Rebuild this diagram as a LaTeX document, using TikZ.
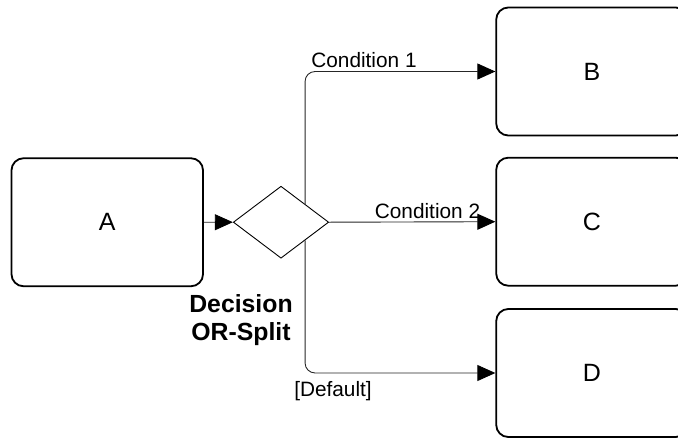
\documentclass[tikz,border=0pt]{standalone}
\usepackage{fontspec}
\setmainfont{Liberation Sans}
\usetikzlibrary{shapes.geometric,arrows.meta}
\begin{document}
\begin{tikzpicture}[x=1pt,y=-1pt,
  task/.style={draw=black,line width=1.8pt,rounded corners=12pt,minimum width=191.5pt,minimum height=128pt,inner sep=0pt,font=\fontsize{25}{29}\selectfont},
  gate/.style={draw=black,line width=0.9pt,shape=diamond,minimum width=95.4pt,minimum height=72pt,inner sep=0pt},
  flow/.style={draw=black!85,line width=0.9pt,rounded corners=10pt,-{Triangle[length=18pt,width=16pt,black]}},
  lbl/.style={inner sep=0pt,anchor=base,font=\fontsize{20.8}{24}\selectfont},
  glbl/.style={inner sep=0pt,align=center,font=\fontsize{24.8}{28}\selectfont\bfseries}]
\useasboundingbox (0,0) rectangle (678,437);
\clip (0,0) rectangle (678,437);
\node[task] (A) at (107.25,222.25) {A};
\node[task] (B) at (592,71.5) {B};
\node[task] (C) at (592,221.7) {C};
\node[task] (D) at (592,373) {D};
\node[gate] (G) at (281,222.2) {};
\draw[flow] (A.east) -- (G.west);
\draw[flow] (G.north east) |- (B.west);
\draw[flow] (G.east) -- (C.west);
\draw[flow] (G.south east) |- (D.west);
\node[lbl] (l1) at (364,67.7) {Condition 1};
\node[lbl] (l2) at (427.5,218) {Condition 2};
\node[lbl] (l3) at (333,396.5) {[Default]};
\node[glbl,anchor=north] (gl) at (241,294) {Decision\\OR-Split};
\end{tikzpicture}
\end{document}
